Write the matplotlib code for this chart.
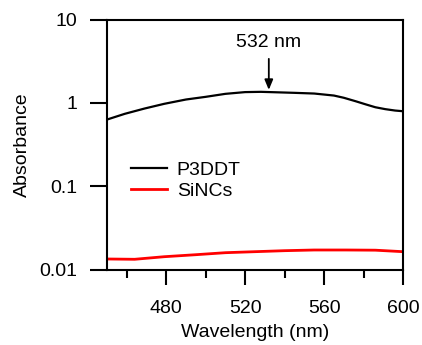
import matplotlib
matplotlib.use("Agg")
import matplotlib.pyplot as plt
from matplotlib.ticker import FixedLocator, NullLocator, FixedFormatter

plt.rcParams['font.family'] = ['Liberation Sans', 'Noto Sans CJK JP', 'DejaVu Sans']

# Data
wl_p3ddt = [450, 459, 469, 479, 490, 500, 510, 520, 528, 535, 545, 555, 565,
            570, 576, 581, 586, 591, 596, 600]
abs_p3ddt = [0.63, 0.738, 0.854, 0.973, 1.096, 1.18, 1.282, 1.345, 1.355, 1.34,
             1.318, 1.293, 1.223, 1.15, 1.045, 0.96, 0.885, 0.84, 0.808, 0.793]

wl_sincs = [450, 464, 479, 495, 510, 525, 540, 555, 571, 586, 600]
abs_sincs = [0.01337, 0.01326, 0.01424, 0.01505, 0.01591, 0.01636, 0.01682,
             0.01714, 0.01714, 0.01705, 0.01636]

xticks_major = [480, 520, 560, 600]
xticks_minor = [460, 500, 540, 580]
yticks = [0.01, 0.1, 1, 10]
ytick_labels = ['0.01', '0.1', '1', '10']

fig = plt.figure(figsize=(4.22, 3.45), dpi=100)
ax = fig.add_axes([107/422, 75.5/345, 296/422, 250/345])

ax.plot(wl_p3ddt, abs_p3ddt, color='black', lw=1.6, label='P3DDT')
ax.plot(wl_sincs, abs_sincs, color='#ff0000', lw=2.0, label='SiNCs')

ax.set_yscale('log')
ax.set_xlim(450, 600)
ax.set_ylim(0.01, 10)

ax.xaxis.set_major_locator(FixedLocator(xticks_major))
ax.xaxis.set_minor_locator(FixedLocator(xticks_minor))
ax.yaxis.set_major_locator(FixedLocator(yticks))
ax.yaxis.set_major_formatter(FixedFormatter(ytick_labels))
ax.yaxis.set_minor_locator(NullLocator())

for s in ax.spines.values():
    s.set_linewidth(1.5)

ax.tick_params(axis='x', which='major', direction='out', length=11, width=1.5,
               labelsize=14, pad=11, top=False)
ax.tick_params(axis='x', which='minor', direction='out', length=6, width=1.5, top=False)
ax.tick_params(axis='y', which='major', direction='out', length=12.5, width=1.5,
               labelsize=14, pad=9, right=False)

ax.set_xlabel('Wavelength (nm)', fontsize=14, labelpad=5)
ax.set_ylabel('Absorbance', fontsize=14, labelpad=6)

ax.annotate('', xy=(532, 1.43), xytext=(532, 3.37),
            arrowprops=dict(arrowstyle='-|>,head_length=0.6,head_width=0.25',
                            color='black', lw=1.3, shrinkA=0, shrinkB=0))
ax.text(532, 5.25, '532 nm', ha='center', va='center', fontsize=14)

ax.legend(loc='center left', bbox_to_anchor=(0.081, 0.356), frameon=False,
          fontsize=14, handlelength=1.85, handletextpad=0.5, borderpad=0,
          borderaxespad=0, labelspacing=0.2)

fig.savefig('out.png', dpi=100)
